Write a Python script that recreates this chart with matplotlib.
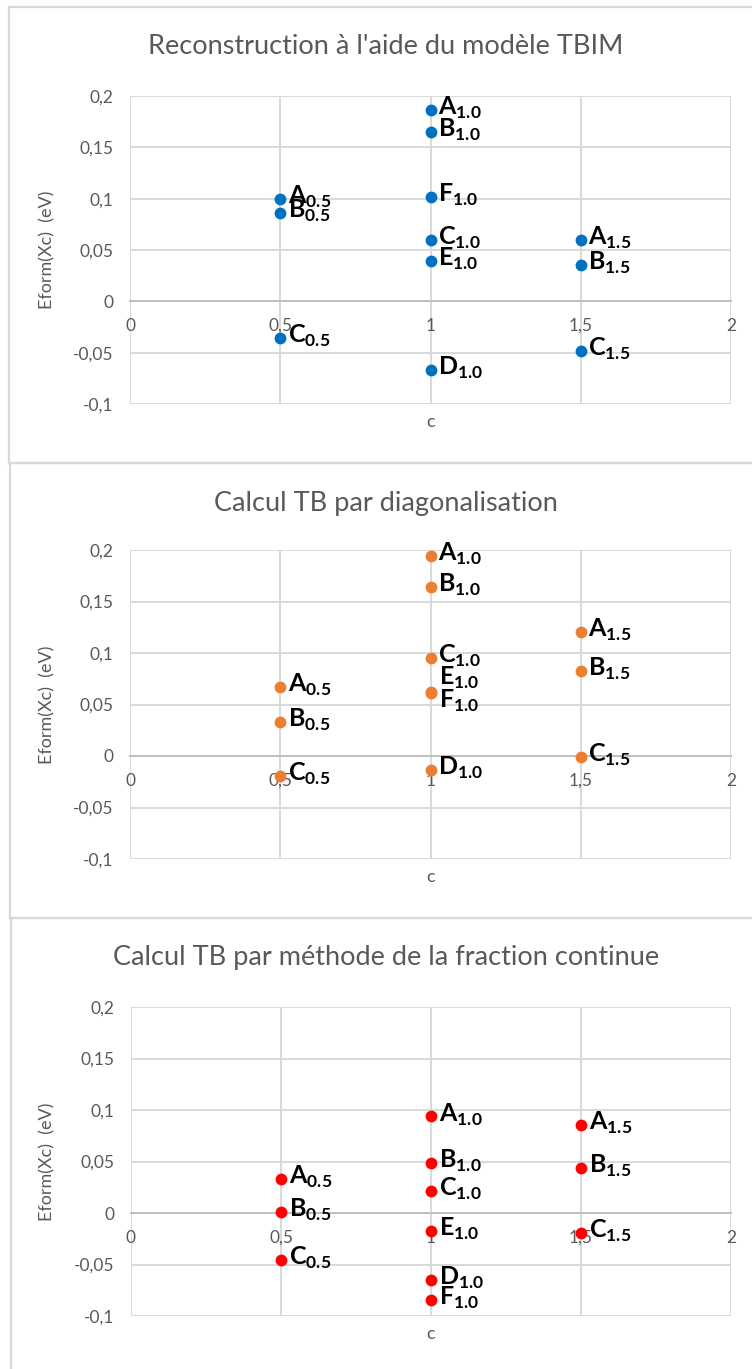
import matplotlib
matplotlib.use("Agg")
import matplotlib.pyplot as plt
from matplotlib.lines import Line2D

plt.rcParams['font.family'] = ['Lato', 'DejaVu Sans']
plt.rcParams['mathtext.fontset'] = 'custom'
plt.rcParams['mathtext.rm'] = 'Lato:bold'
plt.rcParams['mathtext.bf'] = 'Lato:bold'

# data
c = [0.5, 0.5, 0.5, 1.0, 1.0, 1.0, 1.0, 1.0, 1.0, 1.5, 1.5, 1.5]
letters = ['A', 'B', 'C', 'A', 'B', 'C', 'D', 'E', 'F', 'A', 'B', 'C']
subs = ['0.5', '0.5', '0.5', '1.0', '1.0', '1.0', '1.0', '1.0', '1.0', '1.5', '1.5', '1.5']

e_tbim = [0.100, 0.086, -0.036, 0.186, 0.165, 0.060, -0.067, 0.039, 0.102, 0.060, 0.035, -0.048]
e_diag = [0.067, 0.033, -0.019, 0.1945, 0.164, 0.0955, -0.014, 0.0625, 0.0615, 0.120, 0.083, -0.001]
e_frac = [0.033, 0.001, -0.0457, 0.0937, 0.049, 0.0215, -0.065, -0.0176, -0.084, 0.085, 0.044, -0.019]

titles = ["Reconstruction à l'aide du modèle TBIM",
          "Calcul TB par diagonalisation",
          "Calcul TB par méthode de la fraction continue"]
colors = ['#0070C0', '#ED7D31', '#FF0000']
yticks = [-0.1, -0.05, 0, 0.05, 0.1, 0.15, 0.2]
ytick_labels = ['-0,1', '-0,05', '0', '0,05', '0,1', '0,15', '0,2']
xticks = [0, 0.5, 1, 1.5, 2]
xtick_labels = ['0', '0,5', '1', '1,5', '2']

W, H = 752, 1369
fig = plt.figure(figsize=(W / 100, H / 100), dpi=100)

# pixel boxes: (left, top, right, bottom) of plot area, title y, panel frame
plot_boxes = [(130, 96, 731, 404), (130, 550, 731, 859), (131, 1007, 731, 1316)]
title_y = [47, 503, 958]
frames = [(9, 7, 463), (10, 463, 918), (11, 918, 1375)]

# label offsets in points (E/F overlap in the diagonalisation panel)
special = {(1, 7): (6, 10), (1, 8): (6, -6)}

grid_c = '#d9d9d9'
text_c = '#595959'

for k, vals in enumerate([e_tbim, e_diag, e_frac]):
    l, t, r, b = plot_boxes[k]
    ax = fig.add_axes([l / W, 1 - b / H, (r - l) / W, (b - t) / H])
    ax.set_xlim(0, 2)
    ax.set_ylim(-0.1, 0.2)
    ax.set_xticks(xticks)
    ax.set_xticklabels(xtick_labels)
    ax.set_yticks(yticks)
    ax.set_yticklabels(ytick_labels)
    ax.grid(True, color=grid_c, lw=1.4, zorder=0)
    ax.set_axisbelow(True)
    for s in ['top', 'right', 'left']:
        ax.spines[s].set_visible(False)
    ax.spines['bottom'].set_position(('data', 0))
    ax.spines['bottom'].set_color('#bfbfbf')
    ax.spines['bottom'].set_linewidth(1.4)
    ax.tick_params(length=0, labelsize=12.5, labelcolor=text_c)
    ax.tick_params(axis='x', pad=12)
    ax.tick_params(axis='y', pad=12)

    ax.plot(c, vals, 'o', ms=8.5, color=colors[k], mec='none', zorder=5, clip_on=False)
    for i in range(len(c)):
        off = special.get((k, i), (5.5, 1.5))
        ax.annotate(r'$\mathrm{%s}_{\mathrm{%s}}$' % (letters[i], subs[i]),
                    (c[i], vals[i]), xytext=off, textcoords='offset points',
                    ha='left', va='center', fontsize=18, color='black', zorder=6)

    ax.set_ylabel('Eform(Xc)  (eV)', fontsize=13, color=text_c)
    ax.yaxis.set_label_coords((55 - l) / (r - l), 0.5)
    ax.set_xlabel('c', fontsize=13, color=text_c, va='center')
    ax.xaxis.set_label_coords(0.5, -18 / (b - t))

    fig.text(386 / W, 1 - title_y[k] / H, titles[k], ha='center', va='center',
             fontsize=19.5, color=text_c)

    fx, ft, fb = frames[k]
    fig.add_artist(Line2D([fx / W, 1.01], [1 - ft / H] * 2, color=grid_c, lw=1.6))
    fig.add_artist(Line2D([fx / W, 1.01], [1 - fb / H] * 2, color=grid_c, lw=1.6))
    fig.add_artist(Line2D([fx / W] * 2, [1 - ft / H, 1 - fb / H], color=grid_c, lw=1.6))

fig.savefig('out.png', dpi=100)
